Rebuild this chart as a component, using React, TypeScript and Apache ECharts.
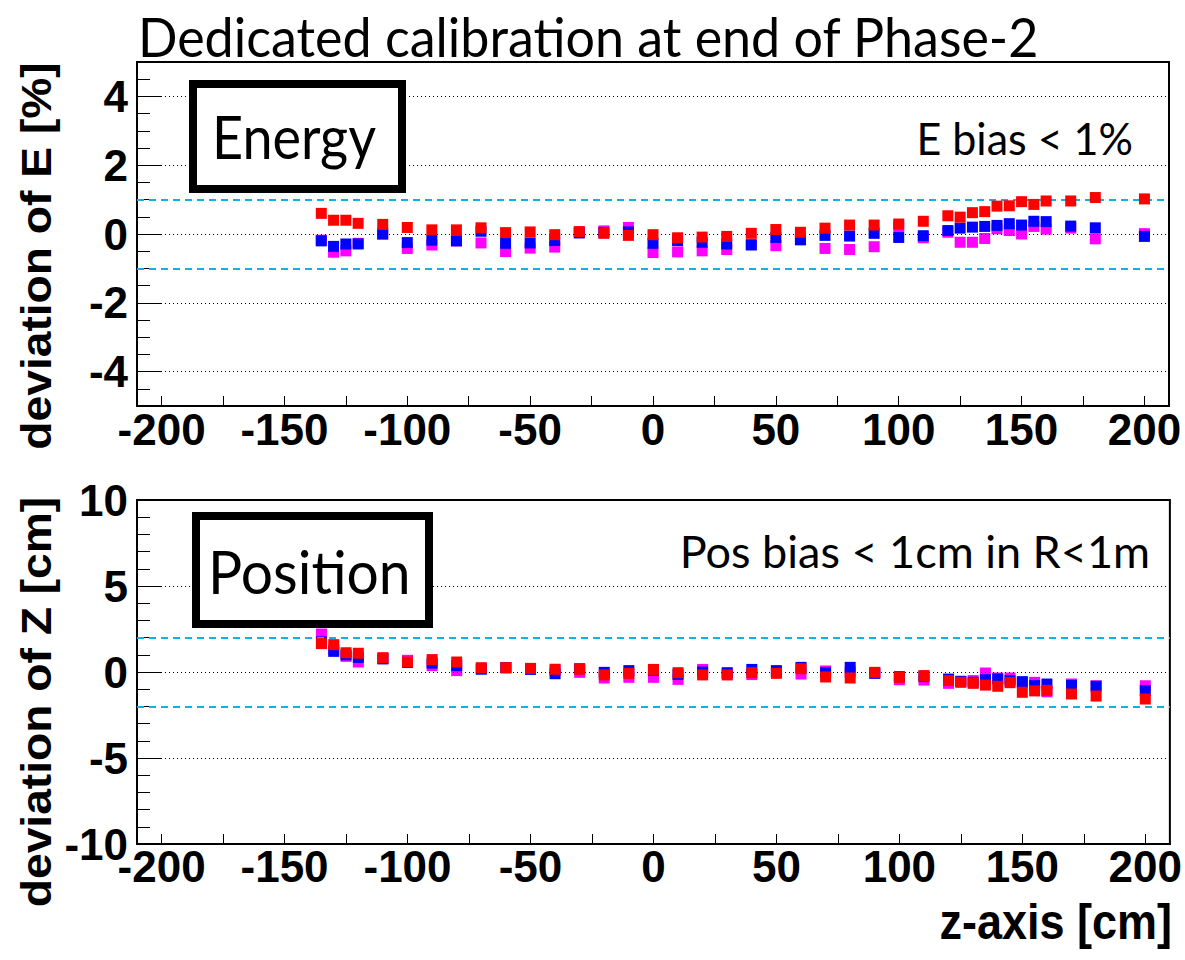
import React, { useEffect, useRef } from "react";
import * as echarts from "echarts";

// z positions of the calibration source [cm]
const zPos = [
  -135, -130, -125, -120, -110, -100, -90, -80, -70, -60, -50, -40, -30, -20, -10, 0,
  10, 20, 30, 40, 50, 60, 70, 80, 90, 100, 110, 120, 125, 130, 135, 140, 145, 150, 155,
  160, 170, 180, 200,
];

// Energy deviation [%]
const energyRed = [
  0.6, 0.4, 0.4, 0.31, 0.28, 0.19, 0.12, 0.12, 0.18, 0.04, 0.06, -0.02, 0.07, 0.02, -0.04,
  -0.02, -0.11, -0.09, -0.07, 0.02, 0.13, 0.05, 0.17, 0.26, 0.26, 0.29, 0.37, 0.53, 0.49,
  0.62, 0.65, 0.81, 0.82, 0.94, 0.86, 0.96, 0.96, 1.06, 1.02,
];
const energyBlue = [
  -0.2, -0.36, -0.29, -0.29, 0.0, -0.25, -0.18, -0.2, 0.08, -0.27, -0.26, -0.19, 0.03, 0.04,
  0.06, -0.27, -0.19, -0.24, -0.29, -0.32, -0.1, -0.17, -0.04, -0.06, 0.02, -0.1, -0.05, 0.1,
  0.17, 0.2, 0.22, 0.25, 0.3, 0.26, 0.37, 0.36, 0.23, 0.18, -0.07,
];
const energyMagenta = [
  -0.18, -0.53, -0.49, -0.27, 0.0, -0.42, -0.32, -0.2, -0.26, -0.51, -0.41, -0.38, 0.05, 0.09,
  0.19, -0.54, -0.52, -0.49, -0.45, -0.3, -0.34, -0.15, -0.42, -0.45, -0.37, 0.22, -0.11, 0.05,
  -0.24, -0.24, -0.13, 0.15, 0.1, 0.0, 0.22, 0.14, 0.17, -0.14, 0.01,
];

// Position deviation [cm]
const posRed = [
  1.65, 1.59, 1.12, 1.09, 0.83, 0.58, 0.72, 0.58, 0.25, 0.25, 0.21, 0.16, 0.16, -0.17, -0.08,
  0.15, -0.04, -0.17, -0.17, -0.04, -0.08, 0.19, -0.29, -0.35, -0.02, -0.31, -0.21, -0.5,
  -0.6, -0.66, -0.76, -0.83, -0.62, -1.18, -1.1, -1.07, -1.28, -1.4, -1.57,
];
const posBlue = [
  1.75, 1.2, 1.0, 0.85, 0.76, 0.55, 0.52, 0.37, 0.16, 0.25, 0.15, -0.1, 0.19, -0.02, 0.08,
  0.1, -0.14, 0.0, -0.04, 0.15, 0.08, 0.27, -0.04, 0.27, -0.08, -0.27, -0.25, -0.41, -0.54,
  -0.6, -0.45, -0.41, -0.5, -0.56, -0.79, -0.7, -0.78, -0.83, -1.09,
];
const posMagenta = [
  2.21, 1.3, 0.91, 0.58, 0.8, 0.68, 0.37, 0.08, 0.2, 0.25, 0.2, 0.1, -0.02, -0.35, -0.31,
  -0.31, -0.43, 0.15, -0.1, -0.15, 0.0, -0.12, 0.06, 0.0, -0.05, -0.45, -0.47, -0.66, -0.55,
  -0.5, -0.06, -0.35, -0.35, -0.6, -0.6, -1.15, -0.7, -0.8, -0.8,
];

// axis ticks and labels
const xTickValues = [-200, -175, -150, -125, -100, -75, -50, -25, 0, 25, 50, 75, 100, 125, 150, 175, 200];
const xLabelValues = [-200, -150, -100, -50, 0, 50, 100, 150, 200];
const energyLabelValues = [-4, -2, 0, 2, 4];
const posLabelValues = [-10, -5, 0, 5, 10];
const energyGridValues = [-4, -2, 0, 2, 4];
const posGridValues = [-5, 0, 5];
const energyBand = [1, -1];
const posBand = [2, -2];

const COLORS = { magenta: "#ff00ff", blue: "#0000ff", red: "#ff0000" };
const BOLD = "Liberation Sans";
const HUMANIST = "Lato";

function pairs(ys: number[]) {
  return zPos.map((z, i) => [z, ys[i]]);
}

function xAxisFor(gridIndex: number, margin: number) {
  return {
    type: "value",
    gridIndex,
    min: -210,
    max: 210,
    axisLine: { show: true, onZero: false, lineStyle: { color: "#000", width: 2 } },
    axisTick: { show: true, inside: true, length: 10, customValues: xTickValues, lineStyle: { color: "#000", width: 1 } },
    axisLabel: {
      show: true,
      customValues: xLabelValues,
      margin,
      fontFamily: BOLD,
      fontWeight: "bold",
      fontSize: 44,
      color: "#000",
    },
    splitLine: { show: false },
  };
}

function yMinorAxis(gridIndex: number, lim: number, step: number) {
  return {
    type: "value",
    gridIndex,
    position: "left",
    min: -lim,
    max: lim,
    interval: step,
    axisLine: { show: true, onZero: false, lineStyle: { color: "#000", width: 2 } },
    axisTick: { show: true, inside: true, length: 13, lineStyle: { color: "#000", width: 1 } },
    axisLabel: { show: false },
    splitLine: { show: false },
  };
}

function yMajorAxis(gridIndex: number, lim: number, values: number[]) {
  return {
    type: "value",
    gridIndex,
    position: "left",
    offset: 0,
    min: -lim,
    max: lim,
    axisLine: { show: false, onZero: false },
    axisTick: { show: true, inside: true, length: 25, customValues: values, lineStyle: { color: "#000", width: 1 } },
    axisLabel: {
      show: true,
      customValues: values,
      margin: 9,
      fontFamily: BOLD,
      fontWeight: "bold",
      fontSize: 44,
      color: "#000",
    },
    splitLine: { show: false },
  };
}

function guideSeries(xIdx: number, yIdx: number, grid: number[], band: number[]) {
  return {
    type: "scatter",
    xAxisIndex: xIdx,
    yAxisIndex: yIdx,
    data: [],
    z: 1,
    silent: true,
    markLine: {
      silent: true,
      symbol: "none",
      label: { show: false },
      emphasis: { disabled: true },
      data: [
        ...grid.map((v) => ({ yAxis: v, lineStyle: { color: "#000", type: [1, 3], width: 1 } })),
        ...band.map((v) => ({ yAxis: v, lineStyle: { color: "#0fb2e0", type: [7, 5], width: 2 } })),
      ],
    },
  };
}

function pointSeries(name: string, xIdx: number, yIdx: number, ys: number[], color: string, z: number) {
  return {
    name,
    type: "scatter",
    xAxisIndex: xIdx,
    yAxisIndex: yIdx,
    data: pairs(ys),
    symbol: "rect",
    symbolSize: 11,
    itemStyle: { color, opacity: 1 },
    z,
  };
}

function rotatedTitle(text: string, x: number, y: number) {
  return {
    type: "text",
    x,
    y,
    rotation: Math.PI / 2,
    scaleX: 1.1,
    z: 20,
    style: {
      text,
      fill: "#000",
      font: `bold 42px "${BOLD}"`,
      textAlign: "center",
      textVerticalAlign: "middle",
    },
  };
}

function plainText(text: string, x: number, y: number, size: number, align: string, bold = false, sy = 1.1) {
  return {
    type: "text",
    x,
    y,
    scaleY: sy,
    z: 20,
    style: {
      text,
      fill: "#000",
      font: bold ? `bold ${size}px "${BOLD}"` : `${size}px "${HUMANIST}"`,
      textAlign: align,
      textVerticalAlign: "middle",
    },
  };
}

function labelBox(x: number, y: number, w: number, h: number) {
  return {
    type: "rect",
    z: 15,
    shape: { x, y, width: w, height: h },
    style: { fill: "#fff", stroke: "#000", lineWidth: 8 },
  };
}

export default function App() {
  const ref = useRef<HTMLDivElement>(null);

  useEffect(() => {
    if (!ref.current) return;
    const chart = echarts.init(ref.current, undefined, { renderer: "svg" });
    chart.setOption({
      animation: false,
      backgroundColor: "#fff",
      grid: [
        { left: 137, top: 62, width: 1032, height: 344, show: true, borderColor: "#000", borderWidth: 2, backgroundColor: "transparent" },
        { left: 137, top: 500, width: 1038, height: 344, show: true, borderColor: "#000", borderWidth: 2, backgroundColor: "transparent" },
      ],
      xAxis: [xAxisFor(0, 1), xAxisFor(1, 0)],
      yAxis: [
        yMinorAxis(0, 5, 0.5),
        yMajorAxis(0, 5, energyLabelValues),
        yMinorAxis(1, 10, 1),
        yMajorAxis(1, 10, posLabelValues),
      ],
      series: [
        guideSeries(0, 0, energyGridValues, energyBand),
        guideSeries(1, 2, posGridValues, posBand),
        pointSeries("E magenta", 0, 0, energyMagenta, COLORS.magenta, 3),
        pointSeries("E blue", 0, 0, energyBlue, COLORS.blue, 4),
        pointSeries("E red", 0, 0, energyRed, COLORS.red, 5),
        pointSeries("Z magenta", 1, 2, posMagenta, COLORS.magenta, 3),
        pointSeries("Z blue", 1, 2, posBlue, COLORS.blue, 4),
        pointSeries("Z red", 1, 2, posRed, COLORS.red, 5),
      ],
      graphic: [
        plainText("Dedicated calibration at end of Phase-2", 138, 35, 52, "left", false, 1.05),
        labelBox(193, 84, 209, 105),
        plainText("Energy", 212, 136, 54, "left"),
        plainText("E bias < 1%", 1133, 138, 43, "right", false, 1.02),
        labelBox(196, 516, 233, 108),
        plainText("Position", 208, 570, 57, "left", false, 1.05),
        plainText("Pos bias < 1cm in R<1m", 1150, 551, 45, "right", false, 1.0),
        rotatedTitle("deviation of E [%]", 36, 256),
        rotatedTitle("deviation of Z [cm]", 36, 702),
        plainText("z-axis [cm]", 1172, 922, 45, "right", true),
      ],
    });
    return () => chart.dispose();
  }, []);

  return (
    <div
      ref={ref}
      style={{ position: "fixed", left: 0, top: 0, width: 1185, height: 960, background: "#fff" }}
    />
  );
}
